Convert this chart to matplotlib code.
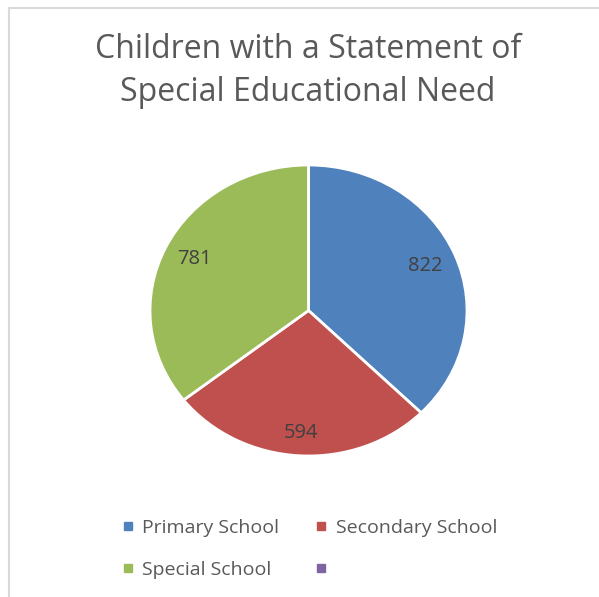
import matplotlib.pyplot as plt
from matplotlib.lines import Line2D

# data
labels = ["Primary School", "Secondary School", "Special School", ""]
values = [822, 594, 781]
colors = ["#4F81BD", "#C0504D", "#9BBB59", "#8064A2"]
title = "Children with a Statement of\nSpecial Educational Need"

plt.rcParams['font.family'] = ['Open Sans', 'DejaVu Sans']

fig = plt.figure(figsize=(5.99, 5.97), dpi=100)
W, H = 599, 597

# light frame (top and left edges visible)
fig.add_artist(Line2D([8.5 / W, 8.5 / W], [0, 1 - 8 / H], color="#d9d9d9", lw=1.5))
fig.add_artist(Line2D([8.5 / W, 1], [1 - 8 / H, 1 - 8 / H], color="#d9d9d9", lw=1.5))

fig.text(308 / W, 1 - 71 / H, title, ha="center", va="center", fontsize=23,
         color="#595959", linespacing=1.38)

# pie is slightly stretched horizontally in the original
ax = fig.add_axes([150 / W, 1 - 456 / H, 317 / W, 291 / H])
total = sum(values)
wedges, _, autotexts = ax.pie(values, colors=colors[:3], startangle=90, counterclock=False,
                              wedgeprops=dict(edgecolor="white", linewidth=2),
                              autopct=lambda p: f"{round(p * total / 100)}", pctdistance=0.8,
                              textprops=dict(fontsize=14.5, color="#404040"))
# bottom label sits a little further out in the original
x, y = autotexts[1].get_position()
autotexts[1].set_position((x * 1.05, y * 1.05))
ax.set_aspect('auto')
ax.set_xlim(-1.0, 1.0)
ax.set_ylim(-1.0, 1.0)
ax.axis('off')

handles = [Line2D([], [], marker='s', linestyle='none', markersize=5.5,
                  markerfacecolor=c, markeredgecolor=c) for c in colors]
# reorder so matplotlib's column-wise filling gives row-wise layout
order = [0, 2, 1, 3]
fig.legend([handles[i] for i in order], [labels[i] for i in order], ncol=2,
           loc="center", bbox_to_anchor=(310 / W, 1 - 549 / H), frameon=False,
           fontsize=14, labelcolor="#595959", handlelength=0.5, handletextpad=0.5,
           columnspacing=1.9, labelspacing=1.25)

fig.savefig("out.png", dpi=100)
